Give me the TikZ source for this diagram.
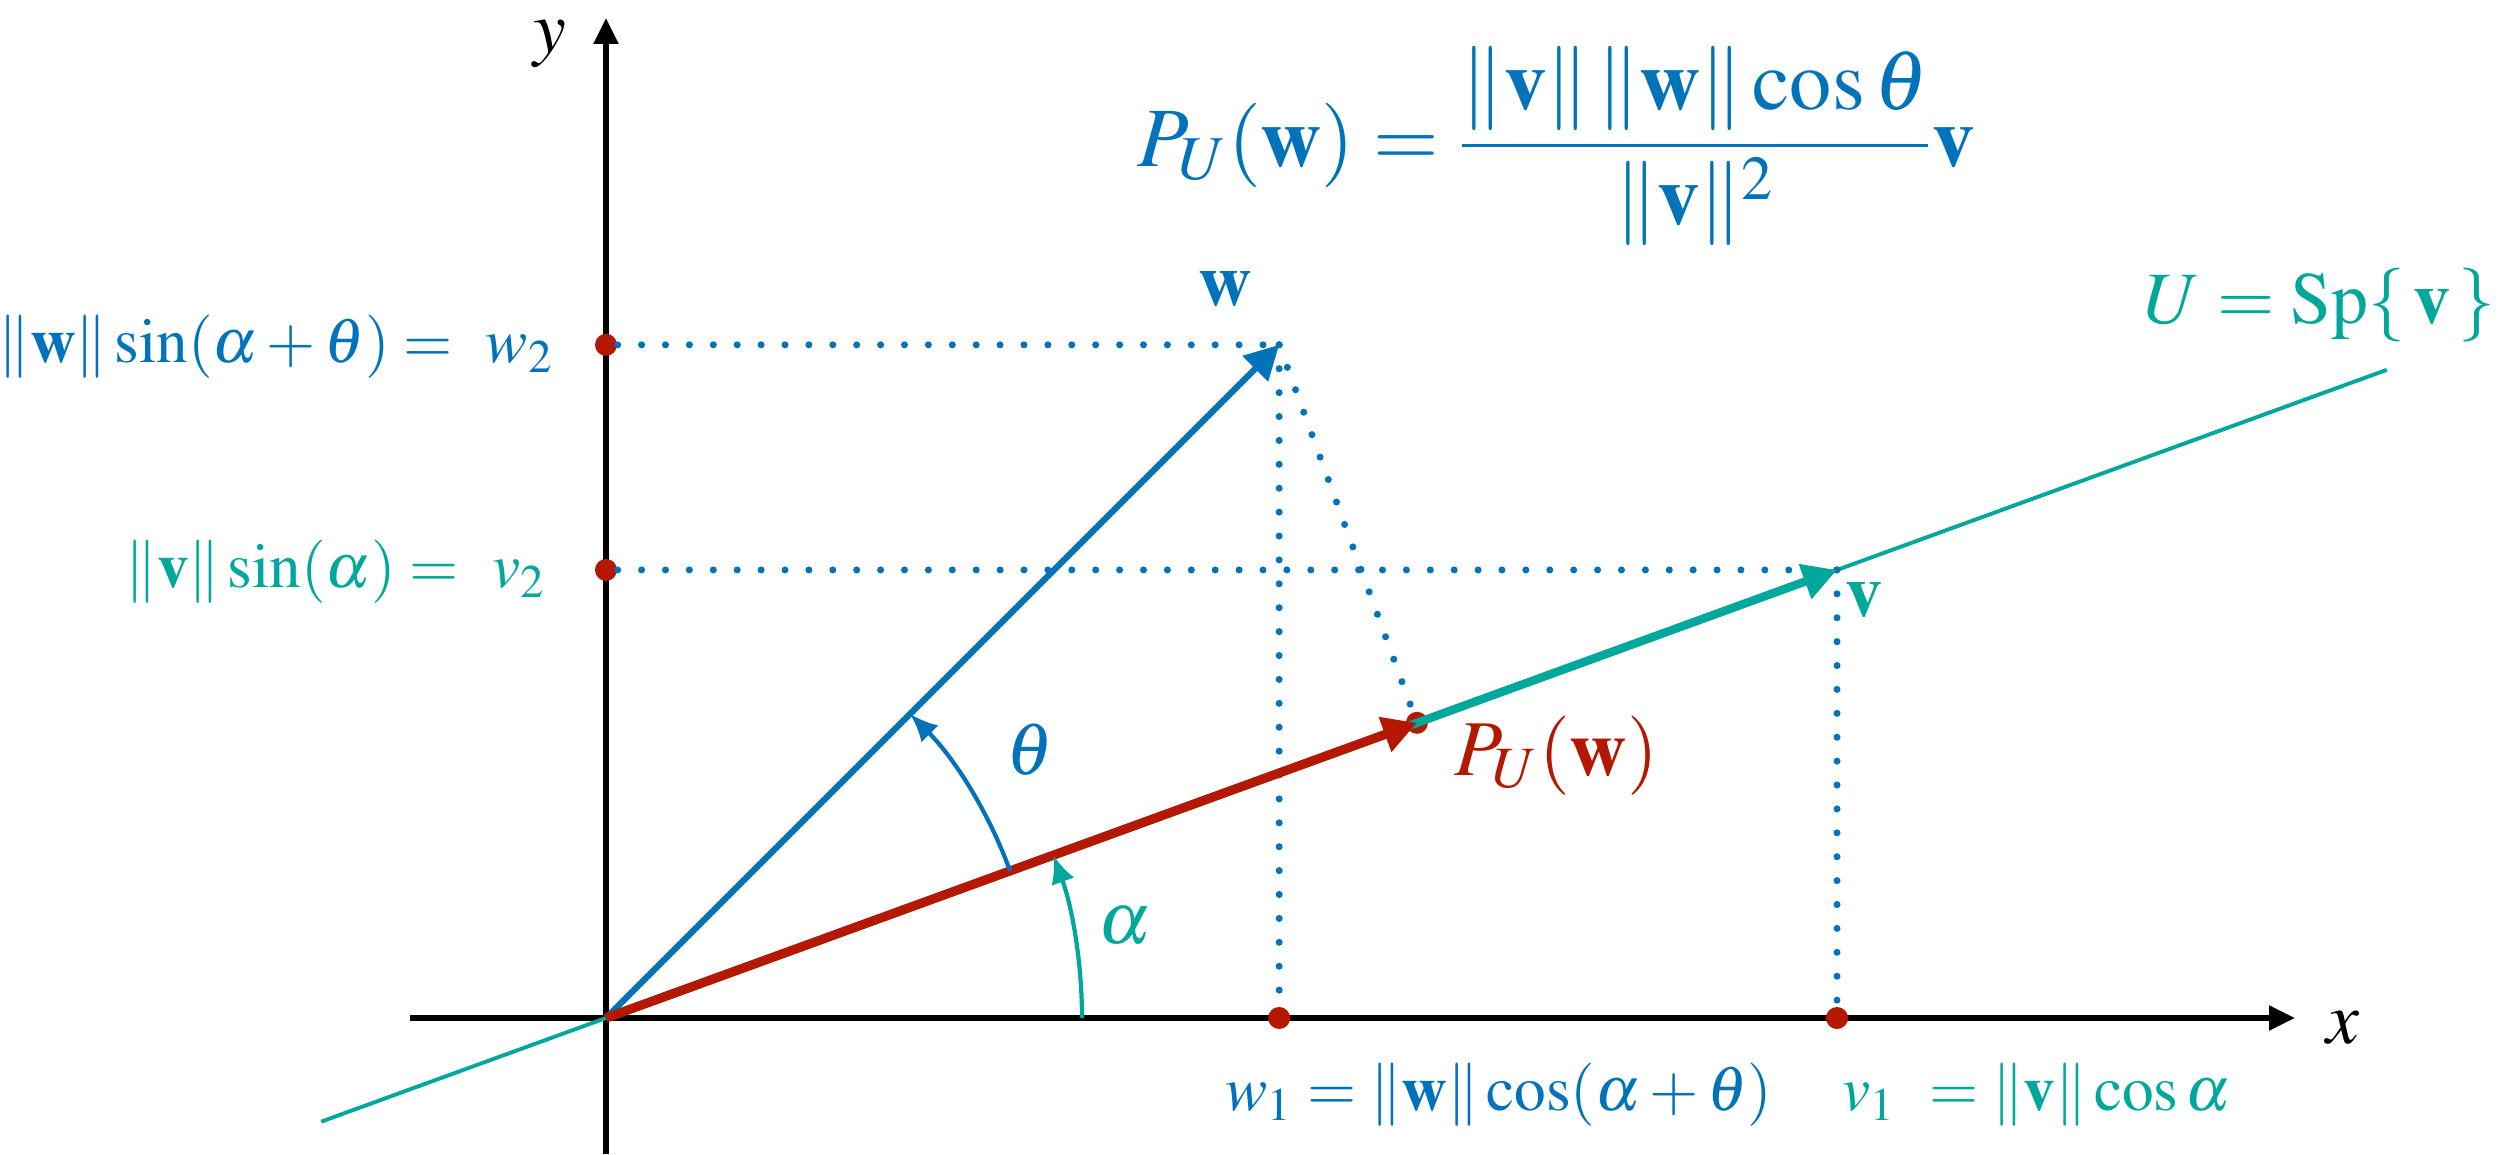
\documentclass[tikz,border=0pt]{standalone}
\usepackage{amsmath}
\usepackage{mathptmx}
\usetikzlibrary{arrows.meta}
\definecolor{azul}{RGB}{0,115,187}
\definecolor{verde}{RGB}{0,168,155}
\definecolor{rojo}{RGB}{180,24,0}

\begin{document}
\begin{tikzpicture}[
    font=\fontsize{21}{25}\selectfont,
    eje/.style={line width=1.5pt,-{Triangle[length=0.26cm,width=0.24cm]}},
    vec/.style={line width=1.8pt,-{Triangle[length=0.34cm,width=0.35cm]}},
    guia/.style={azul,line width=2pt,line cap=round,dash pattern=on 0pt off 6.8pt},
    punto/.style={circle,fill=rojo,inner sep=0pt,minimum size=0.22cm},
    arco/.style={line width=1.2pt,-{Latex[length=0.28cm,width=0.24cm]}},
    coord/.style={font=\fontsize{18}{22}\selectfont}
]
    \useasboundingbox (-6.06,-1.36) rectangle (19.14,10.18);
    \coordinate (O) at (0,0);
    \coordinate (W) at (45:9.52);
    \coordinate (V) at (20:13.1);
    \coordinate (P) at (20:8.63);

    % ejes
    \coordinate (xi) at (-1.96,0);
    \coordinate (xf) at (16.89,0);
    \coordinate (yi) at (0,-1.36);
    \coordinate (yf) at (0,10.0);
    \draw[eje] (xi) -- (xf);
    \draw[eje] (yi) -- (yf);
    \node (xlab) at (17.37,-0.1) {$x$};
    \node[inner sep=1pt] (ylab) at (-0.56,9.74) {$y$};

    % recta U
    \coordinate (ui) at (200:3.03);
    \coordinate (uf) at (20:18.95);
    \draw[verde,line width=1.1pt] (ui) -- (uf);

    % puntos
    \node[punto] (w2p) at (O |- W) {};
    \node[punto] (v2p) at (O |- V) {};
    \node[punto] (w1p) at (W |- O) {};
    \node[punto] (v1p) at (V |- O) {};
    \node[punto] (pp) at (P) {};

    % guias
    \draw[guia] (w2p) -- (W);
    \draw[guia] (W) -- (w1p);
    \draw[guia] (W) -- (pp);
    \draw[guia] (v2p) -- (V);
    \draw[guia] (V) -- (v1p);

    % vectores
    \draw[vec,verde,line width=2.4pt] (O) -- (V);
    \draw[vec,azul] (O) -- (W);
    \draw[vec,rojo,line width=2.6pt] (O) -- (P);

    % angulos
    \draw[arco,verde] (4.76,0) arc[start angle=0,end angle=20,radius=4.76];
    \draw[arco,azul] (20:4.3) arc[start angle=20,end angle=45,radius=4.3];
    \node[verde] (alfa) at (5.19,0.92) {$\alpha$};
    \node[azul] (teta) at (4.24,2.68) {$\theta$};

    % etiquetas
    \node[azul] (lw) at (6.19,7.29) {$\mathbf{w}$};
    \node[verde] (lv) at (12.58,4.18) {$\mathbf{v}$};
    \node[rojo,font=\fontsize{22.5}{27}\selectfont] (lp) at (9.5,2.62) {$P_U(\mathbf{w})$};
    \node[verde] (lu) at (17.14,7.13) {$U=\mathrm{Sp}\{\,\mathbf{v}\,\}$};
    \node[azul,font=\fontsize{24}{29}\selectfont] (proy) at (9.5,8.72)
        {$P_U(\mathbf{w})=\dfrac{\|\mathbf{v}\|\,\|\mathbf{w}\|\cos\theta}{\|\mathbf{v}\|^2}\mathbf{v}$};
    \node[coord,azul,anchor=east,inner sep=0pt] (lw2) at (-0.52,6.71)
        {$\|\mathbf{w}\|\sin(\alpha+\theta)=\ w_2$};
    \node[coord,verde,anchor=east,inner sep=0pt] (lv2) at (-0.6,4.46)
        {$\|\mathbf{v}\|\sin(\alpha)=\ v_2$};
    \node[coord,azul,anchor=west,inner sep=0pt] (lw1) at (6.19,-0.77)
        {$w_1=\|\mathbf{w}\|\cos(\alpha+\theta)$};
    \node[coord,verde,anchor=west,inner sep=0pt] (lv1) at (12.36,-0.77)
        {$v_1\ =\|\mathbf{v}\|\cos\alpha$};
\end{tikzpicture}
\end{document}
